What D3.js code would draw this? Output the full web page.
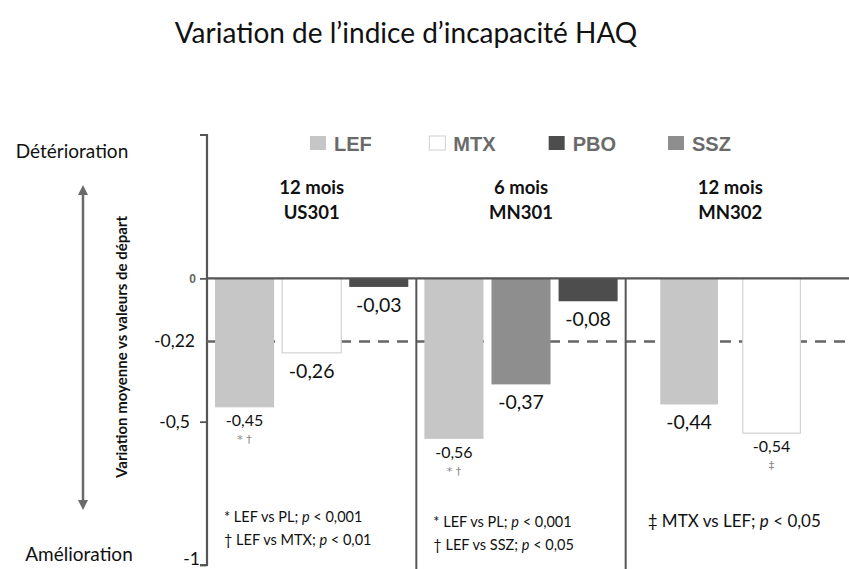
<!DOCTYPE html>
<html><head><meta charset="utf-8">
<script src="https://cdn.jsdelivr.net/npm/d3@7/dist/d3.min.js"></script>
<style>body{margin:0;background:#fff}svg{display:block}</style>
</head><body><svg id="c" width="849" height="569"></svg>
<script>
// ---- data ----
const groups = ["US301", "MN301", "MN302"];
const groupPeriods = ["12 mois", "6 mois", "12 mois"];
const legendSeries = ["LEF", "MTX", "PBO", "SSZ"];
const groupSeries = [["LEF", "MTX", "PBO"], ["LEF", "SSZ", "PBO"], ["LEF", "MTX"]];
const groupValues = [[-0.45, -0.26, -0.03], [-0.56, -0.37, -0.08], [-0.44, -0.54]];
const valueLabels = [["-0,45", "-0,26", "-0,03"], ["-0,56", "-0,37", "-0,08"], ["-0,44", "-0,54"]];
const sigMarks = [["* †", "", ""], ["* †", "", ""], ["", "‡"]];
const footnotes = [
  [["* LEF vs PL; ", "p", " < 0,001"], ["† LEF vs MTX; ", "p", " < 0,01"]],
  [["* LEF vs PL; ", "p", " < 0,001"], ["† LEF vs SSZ; ", "p", " < 0,05"]],
  [["‡ MTX vs LEF; ", "p", " < 0,05"]]
];
const refValue = -0.22;
const tickValues = [0, -0.5, -1];
const tickLabels = ["0", "-0,5", "-1"];
const refLabel = "-0,22";
const title = "Variation de l’indice d’incapacité HAQ";
const yTitle = "Variation moyenne vs valeurs de départ";
const topLabel = "Détérioration";
const bottomLabel = "Amélioration";

// ---- styles ----
const fills = {LEF: "#c6c6c6", MTX: "#ffffff", PBO: "#4d4d4d", SSZ: "#8e8e8e"};
const strokes = {LEF: "none", MTX: "#d2d2d2", PBO: "none", SSZ: "none"};
const calibri = "Lato, 'Noto Sans', sans-serif";

const svg = d3.select("#c");
const axisX = 207, rightEdge = 849;
const y = d3.scaleLinear().domain([-1, 0.5]).range([565, 135]);
const x0 = d3.scaleBand().domain(groups).range([axisX, 835]);

// title
svg.append("text").attr("x", 406).attr("y", 43).attr("text-anchor", "middle")
  .style("font-family", calibri).style("font-size", "28px").attr("fill", "#111").text(title);

// left arrow + labels
svg.append("defs").html('<marker id="ah" viewBox="0 0 10 10" refX="5" refY="5" markerWidth="4" markerHeight="4" orient="auto-start-reverse"><path d="M0,0L10,5L0,10z" fill="#6a6a6a"/></marker>');
svg.append("line").attr("x1", 83).attr("x2", 83).attr("y1", 190).attr("y2", 505)
  .attr("stroke", "#6a6a6a").attr("stroke-width", 2.5)
  .attr("marker-start", "url(#ah)").attr("marker-end", "url(#ah)");
svg.append("text").attr("x", 72).attr("y", 158).attr("text-anchor", "middle")
  .style("font-family", calibri).style("font-size", "19px").attr("fill", "#111").text(topLabel);
svg.append("text").attr("x", 79).attr("y", 561).attr("text-anchor", "middle")
  .style("font-family", calibri).style("font-size", "19px").attr("fill", "#111").text(bottomLabel);
svg.append("text").attr("transform", "translate(127,347) rotate(-90)").attr("text-anchor", "middle")
  .style("font-family", calibri).style("font-size", "15px").style("font-weight", "bold").attr("fill", "#111").text(yTitle);

// y axis
const axisG = svg.append("g").attr("transform", `translate(${axisX},0)`)
  .call(d3.axisLeft(y).tickValues(tickValues).tickFormat((d, i) => tickLabels[i]).tickSize(7).tickPadding(4));
axisG.select(".domain").attr("d", `M-7,${y(0.5)}H0V${y(-1)}H-7`).attr("stroke", "#555").attr("stroke-width", 2.2);
axisG.selectAll(".tick line").attr("stroke", "#555").attr("stroke-width", 1.8);
axisG.selectAll(".tick text").each(function(d) {
  const t = d3.select(this);
  if (d === 0) t.style("font-family", "'Liberation Sans', Arial").style("font-size", "12px").style("font-weight", "bold").attr("fill", "#666");
  else t.style("font-family", calibri).style("font-size", "17.5px").attr("fill", "#111")
    .attr("dx", d === -1 ? "4" : "-6").attr("dy", d === -1 ? "-0.05em" : "0.32em");
});
svg.append("text").attr("x", 195).attr("y", y(refValue) + 6).attr("text-anchor", "end")
  .style("font-family", calibri).style("font-size", "17.5px").attr("fill", "#111").text(refLabel);

// legend
const lg = svg.append("g").attr("transform", "translate(0,143)");
const lx = d3.scalePoint().domain(legendSeries).range([310, 668]);
legendSeries.forEach(s => {
  const g = lg.append("g").attr("transform", `translate(${lx(s)},0)`);
  g.append("rect").attr("x", 0).attr("y", -7).attr("width", 16).attr("height", 14)
    .attr("fill", s === "MTX" ? "#fff" : fills[s]).attr("stroke", s === "MTX" ? "#cfcfcf" : "none");
  g.append("text").attr("x", 24).attr("y", 7.5).style("font-family", "'Liberation Sans', Arial")
    .style("font-size", "20px").style("font-weight", "bold").attr("fill", "#6a6a6a").text(s);
});

// dashed reference line (behind bars)
svg.append("line").attr("x1", axisX).attr("x2", rightEdge).attr("y1", y(refValue)).attr("y2", y(refValue))
  .attr("stroke", "#666").attr("stroke-width", 2.5).attr("stroke-dasharray", "11,8");

// bars
groups.forEach((gName, gi) => {
  const series = groupSeries[gi];
  const n = series.length;
  const x1 = d3.scaleBand().domain(series).range([0, x0.bandwidth()])
    .paddingInner(n === 3 ? 0.12 : 0.3).paddingOuter(n === 3 ? 0.12 : 0.42);
  const g = svg.append("g").attr("transform", `translate(${x0(gName)},0)`);
  series.forEach((s, i) => {
    const v = groupValues[gi][i];
    g.append("rect").attr("x", x1(s)).attr("y", y(0)).attr("width", x1.bandwidth())
      .attr("height", y(v) - y(0)).attr("fill", fills[s]).attr("stroke", strokes[s]).attr("stroke-width", 1.2);
    const small = sigMarks[gi][i] !== "";
    g.append("text").attr("x", x1(s) + x1.bandwidth() / 2).attr("y", y(v) + (small ? 19 : 25))
      .attr("text-anchor", "middle").style("font-family", calibri)
      .style("font-size", small ? "16px" : "19.5px").attr("fill", "#111").text(valueLabels[gi][i]);
    if (small) {
      g.append("text").attr("x", x1(s) + x1.bandwidth() / 2).attr("y", y(v) + 36)
        .attr("text-anchor", "middle").style("font-family", "'DejaVu Sans', sans-serif")
        .style("font-size", "11px").attr("fill", "#888").text(sigMarks[gi][i]);
    }
  });
  // group title
  const cx = x0(gName) + x0.bandwidth() / 2;
  [groupPeriods[gi], gName].forEach((t, k) => {
    svg.append("text").attr("x", cx).attr("y", 194 + k * 25).attr("text-anchor", "middle")
      .style("font-family", calibri).style("font-size", "18.5px").style("font-weight", "bold").attr("fill", "#111").text(t);
  });
  // footnotes
  footnotes[gi].forEach((parts, k) => {
    const big = footnotes[gi].length === 1;
    const t = svg.append("text").attr("x", x0(gName) + (big ? 22 : 17)).attr("y", (gi === 0 ? 522 : 527) + k * 23)
      .style("font-family", calibri).style("font-size", big ? "17px" : "14.5px").attr("fill", "#111");
    t.append("tspan").text(parts[0]);
    t.append("tspan").style("font-style", "italic").text(parts[1]);
    t.append("tspan").text(parts[2]);
  });
});

// zero line and separators
svg.append("line").attr("x1", axisX).attr("x2", rightEdge).attr("y1", y(0)).attr("y2", y(0))
  .attr("stroke", "#555").attr("stroke-width", 2.2);
groups.slice(1).forEach(gName => {
  svg.append("line").attr("x1", x0(gName)).attr("x2", x0(gName)).attr("y1", y(0)).attr("y2", 569)
    .attr("stroke", "#555").attr("stroke-width", 2);
});
</script></body></html>
